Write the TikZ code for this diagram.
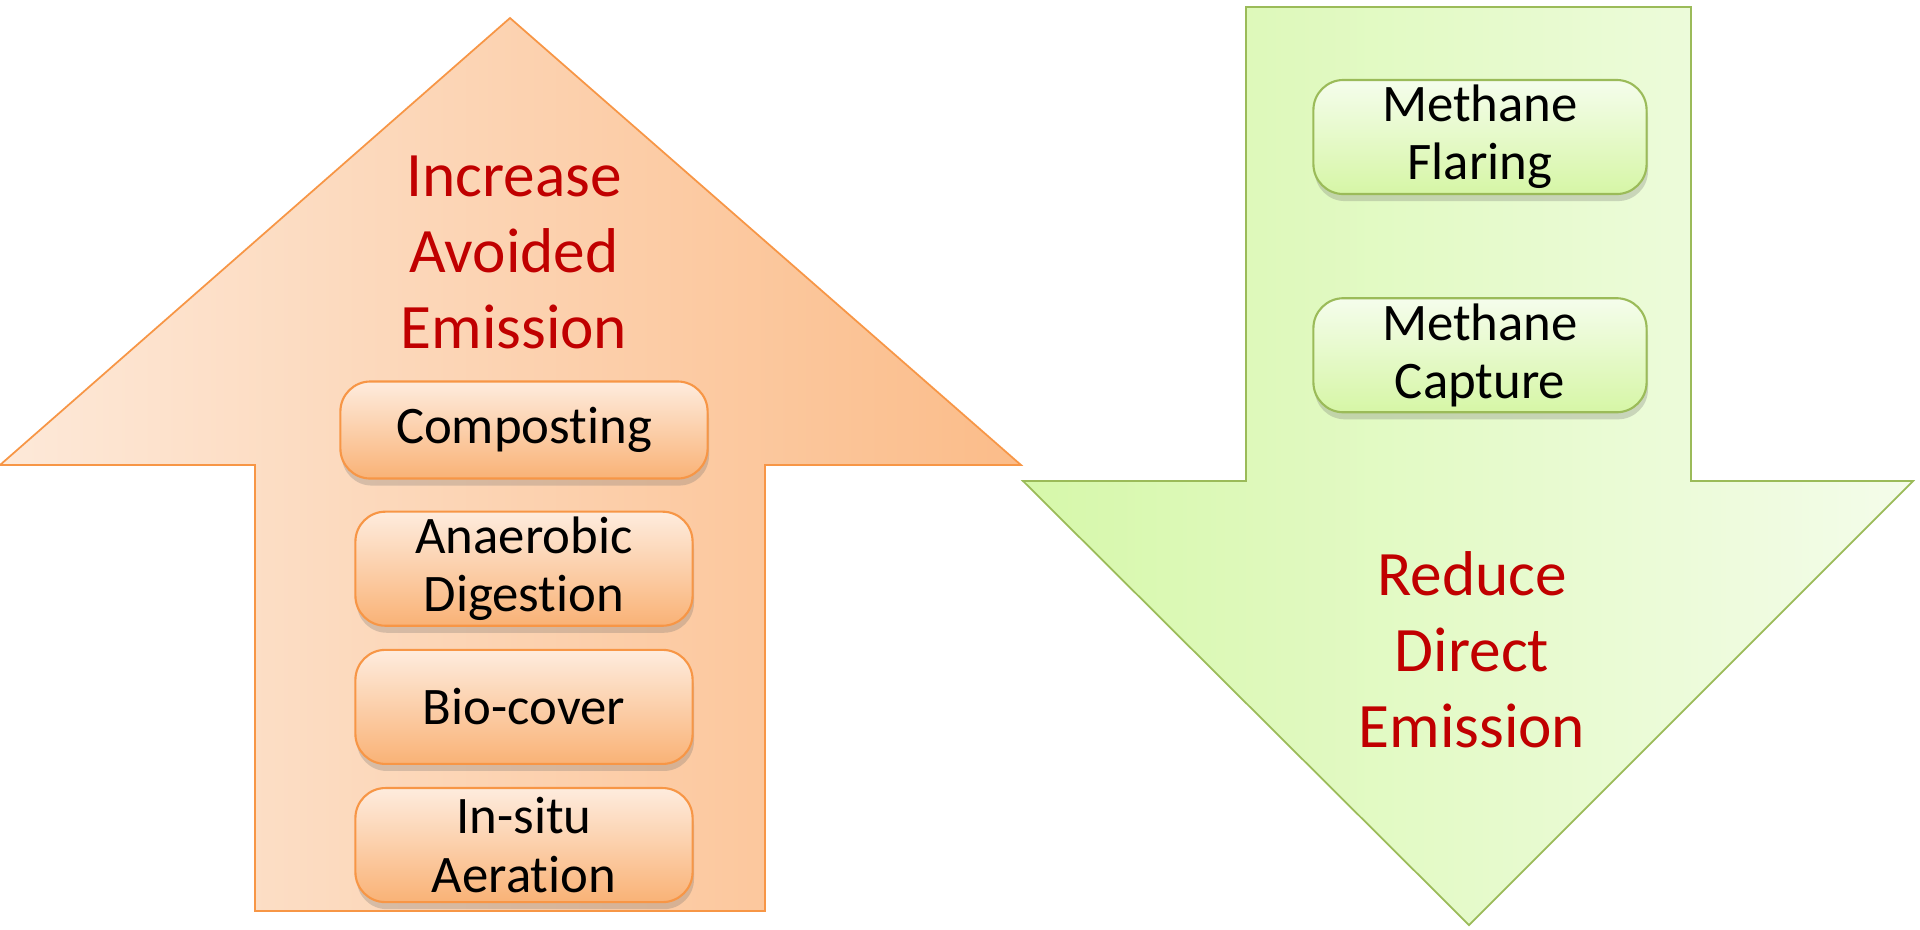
\documentclass[tikz,border=0pt]{standalone}
\usepackage{fontspec}
\setmainfont{Carlito}[Ligatures=NoCommon]
\usetikzlibrary{positioning,shadows}
\definecolor{orangeline}{RGB}{247,150,70}
\definecolor{orangelight}{RGB}{253,233,217}
\definecolor{orangedark}{RGB}{251,188,137}
\definecolor{boxorangetop}{RGB}{254,236,222}
\definecolor{boxorangebottom}{RGB}{249,178,118}
\definecolor{greenline}{RGB}{155,187,89}
\definecolor{greenleft}{RGB}{214,248,170}
\definecolor{greenright}{RGB}{244,252,234}
\definecolor{boxgreentop}{RGB}{245,253,236}
\definecolor{boxgreenbottom}{RGB}{214,246,166}
\definecolor{titlered}{RGB}{192,0,0}

\begin{document}
\begin{tikzpicture}[
    x=0.01cm, y=-0.01cm,
    node distance=0.22cm,
    every node/.style={align=center},
    title/.style={text=titlered, font=\fontsize{18}{21.6}\selectfont},
    option/.style={rectangle, rounded corners=0.3cm, inner sep=0pt, line width=0.6pt, font=\fontsize{15}{16.6}\selectfont, drop shadow={shadow xshift=0.4pt, shadow yshift=-2pt, opacity=0.25, fill=black!60}},
    orangebox/.style={option, minimum width=3.37cm, minimum height=1.14cm, draw=orangeline, top color=boxorangetop, bottom color=boxorangebottom},
    greenbox/.style={option, minimum width=3.33cm, minimum height=1.14cm, draw=greenline, top color=boxgreentop, bottom color=boxgreenbottom}
]
\useasboundingbox (0,0) rectangle (1920,929);

% Up arrow
\shade[left color=orangelight, right color=orangedark, draw=orangeline, line width=0.5pt]
    (0,465) -- (510,18) -- (1021,465) -- (765,465) -- (765,911) -- (255,911) -- (255,465) -- cycle;

% Down arrow
\shade[left color=greenleft, right color=greenright, draw=greenline, line width=0.5pt]
    (1246,7) -- (1691,7) -- (1691,481) -- (1913,481) -- (1469,925) -- (1023,481) -- (1246,481) -- cycle;

% Titles
\node[title] (avoided) at (514,252) {Increase\\Avoided\\Emission};
\node[title] (direct) at (1472,650) {Reduce\\Direct\\Emission};

% Avoided emission options
\node[orangebox, minimum width=3.67cm, minimum height=0.97cm] (composting) at (524,430) {Composting};
\node[orangebox, below=0.31cm of composting] (digestion) {Anaerobic\\Digestion};
\node[orangebox, below=of digestion] (biocover) {Bio-cover};
\node[orangebox, below=of biocover] (aeration) {In-situ\\Aeration};

% Direct emission options
\node[greenbox] (flaring) at (1480,137) {Methane\\Flaring};
\node[greenbox, below=1.02cm of flaring] (capture) {Methane\\Capture};

\end{tikzpicture}
\end{document}
